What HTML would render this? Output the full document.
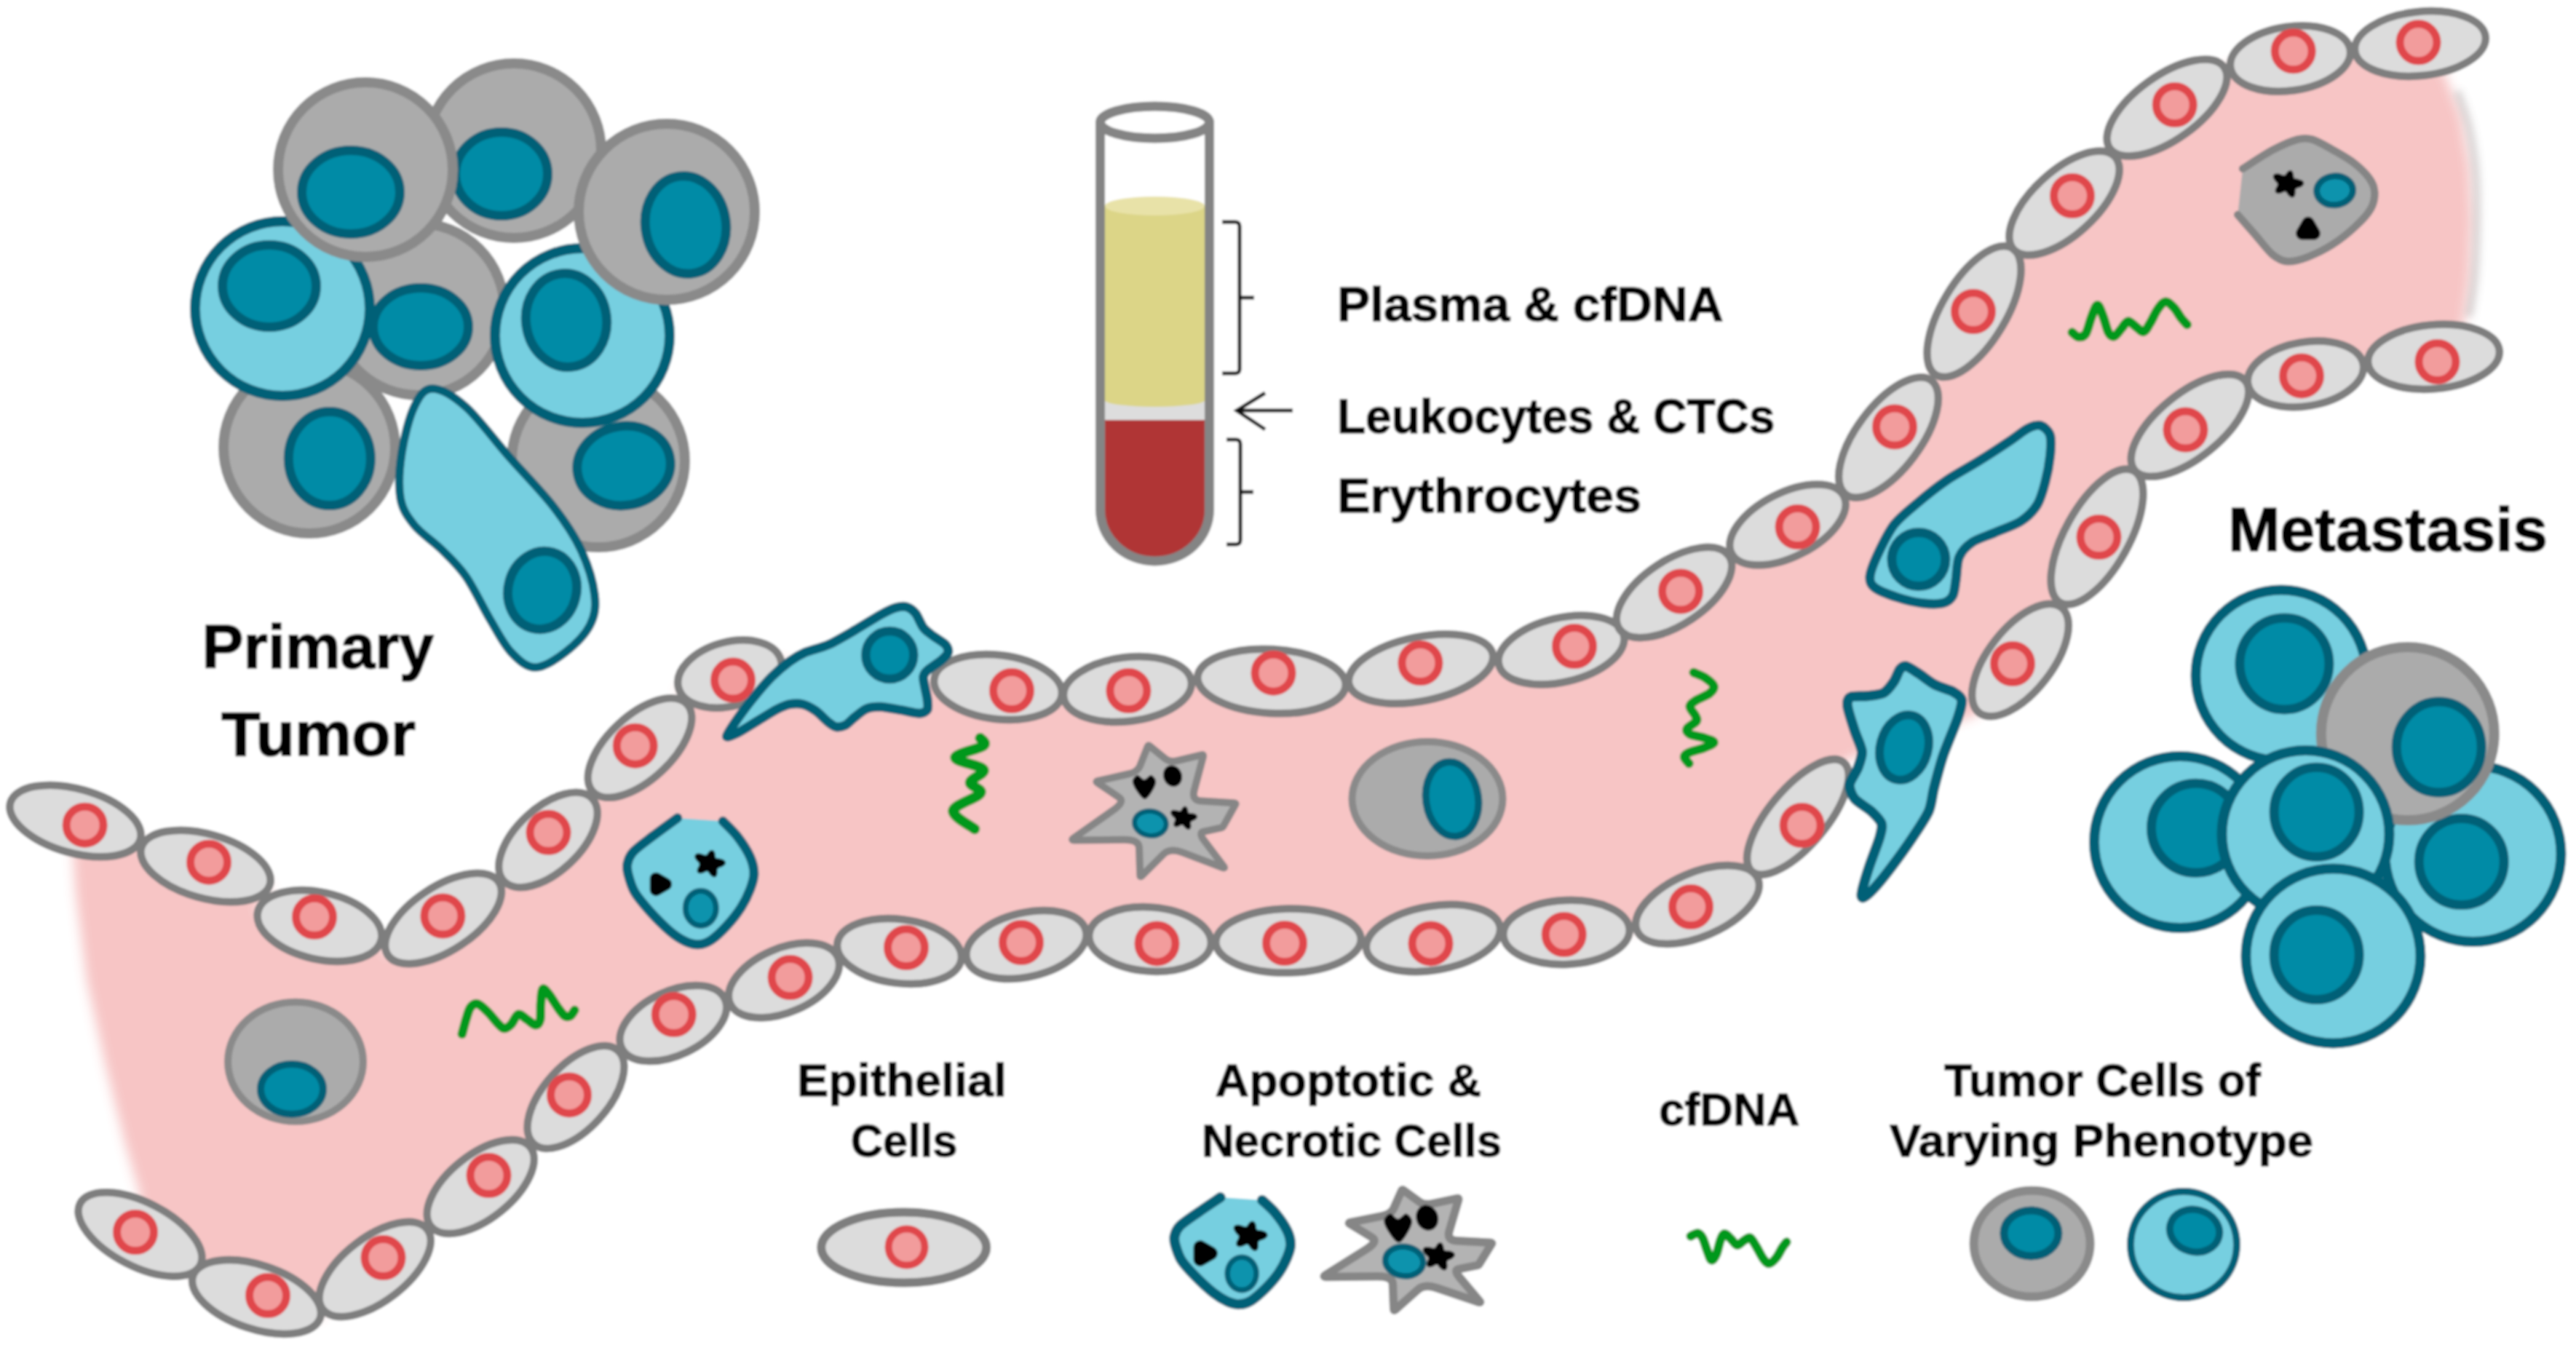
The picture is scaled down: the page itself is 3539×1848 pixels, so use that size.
<!DOCTYPE html><html><head><meta charset="utf-8"><title>Diagram</title><style>html,body{margin:0;padding:0;background:#fff}svg{display:block}text{font-family:"Liberation Sans",sans-serif;font-weight:bold;fill:#000;stroke:#000;stroke-linejoin:round}</style></head><body>
<svg width="3539" height="1848" viewBox="0 0 3539 1848">
<defs><filter id="bl" x="-5%" y="-5%" width="110%" height="110%"><feGaussianBlur stdDeviation="8"/></filter><filter id="bl2" filterUnits="userSpaceOnUse" x="3300" y="50" width="200" height="460"><feGaussianBlur stdDeviation="5"/></filter><filter id="soft" filterUnits="userSpaceOnUse" x="0" y="0" width="3539" height="1848"><feGaussianBlur stdDeviation="1.5"/></filter></defs>
<g filter="url(#soft)">
<rect width="3539" height="1848" fill="#fff"/>
<path d="M192.0,1640.0 L172.0,1572.0 L145.0,1465.0 L119.0,1347.0 L104.0,1228.0 L100.0,1170.0 L103.5,1128.0 L196.0,1154.0 L191.0,1164.0 L282.5,1190.0 L374.0,1216.0 L351.0,1252.0 L439.0,1272.0 L527.0,1292.0 L530.0,1314.0 L609.0,1262.0 L688.0,1210.0 L690.0,1213.0 L753.0,1154.0 L816.0,1095.0 L812.0,1090.0 L879.0,1027.5 L946.0,965.0 L929.0,946.0 L1002.5,926.0 L1076.0,906.0 L1090.0,915.0 L1280.0,936.0 L1280.0,933.0 L1371.0,944.0 L1462.0,955.0 L1458.0,958.0 L1549.0,947.0 L1640.0,936.0 L1642.0,930.0 L1747.0,936.0 L1852.0,942.0 L1850.0,940.0 L1952.0,919.0 L2054.0,898.0 L2056.0,914.0 L2145.0,893.0 L2234.0,872.0 L2222.0,866.0 L2300.0,814.0 L2378.0,762.0 L2376.0,762.0 L2456.0,721.0 L2536.0,680.0 L2534.0,682.0 L2594.5,601.0 L2655.0,520.0 L2658.0,518.0 L2712.0,428.0 L2766.0,338.0 L2764.0,345.0 L2836.0,279.0 L2908.0,213.0 L2896.0,206.0 L2977.0,148.0 L3058.0,90.0 L3061.0,93.0 L3146.5,80.5 L3232.0,68.0 L3232.0,70.0 L3325.0,60.0 L3356.0,95.0 L3381.0,160.0 L3393.0,230.0 L3396.0,300.0 L3393.0,380.0 L3384.0,450.0 L3343.5,490.2 L3250.0,499.0 L3250.0,500.0 L3167.5,514.0 L3085.0,528.0 L3087.0,521.0 L3008.5,584.5 L2930.0,648.0 L2933.0,644.0 L2881.0,737.5 L2829.0,831.0 L2834.0,832.0 L2775.5,907.0 L2717.0,982.0 L2535.0,1045.0 L2470.0,1122.5 L2405.0,1200.0 L2418.0,1206.0 L2332.0,1243.0 L2246.0,1280.0 L2242.0,1277.0 L2152.0,1281.0 L2062.0,1285.0 L2064.0,1273.0 L1969.0,1289.0 L1874.0,1305.0 L1873.0,1290.0 L1770.0,1292.5 L1667.0,1295.0 L1667.0,1297.0 L1580.0,1290.5 L1493.0,1284.0 L1495.0,1278.0 L1410.0,1298.0 L1325.0,1318.0 L1324.0,1318.0 L1235.5,1307.0 L1147.0,1296.0 L1154.0,1314.0 L1077.0,1347.0 L1000.0,1380.0 L998.6,1371.0 L924.8,1406.0 L851.0,1441.0 L851.0,1441.0 L791.0,1507.5 L731.0,1574.0 L731.0,1574.0 L660.2,1630.5 L589.5,1687.0 L589.5,1687.0 L515.2,1744.0 L441.0,1801.0 L443.0,1812.0 L352.5,1782.0 L262.0,1752.0 L278.0,1740.0 L192.5,1696.0Z" fill="#f7c5c5" filter="url(#bl)"/>
<path d="M3376.0,125.0 C3378.5,132.5 3386.8,152.5 3391.0,170.0 C3395.2,187.5 3399.0,208.3 3401.0,230.0 C3403.0,251.7 3403.2,275.0 3403.0,300.0 C3402.8,325.0 3401.8,357.5 3400.0,380.0 C3398.2,402.5 3393.3,425.8 3392.0,435.0" fill="none" stroke="#666" stroke-opacity="0.22" stroke-width="12" filter="url(#bl2)"/>
<ellipse cx="425.0" cy="615.0" rx="118.0" ry="118.0" fill="#ababab" stroke="#8a8a8a" stroke-width="14.0"/>
<ellipse cx="452.8" cy="630.0" rx="56.5" ry="64.5" fill="#008ba6" stroke="#006177" stroke-width="13.0"/>
<ellipse cx="822.0" cy="633.0" rx="119.0" ry="119.0" fill="#ababab" stroke="#8a8a8a" stroke-width="14.0"/>
<ellipse cx="857.0" cy="640.0" rx="64.5" ry="54.5" fill="#008ba6" stroke="#006177" stroke-width="13.0" transform="rotate(-10.0 857.0 640.0)"/>
<ellipse cx="575.0" cy="425.0" rx="118.0" ry="118.0" fill="#ababab" stroke="#8a8a8a" stroke-width="14.0"/>
<ellipse cx="578.0" cy="449.0" rx="65.5" ry="53.5" fill="#008ba6" stroke="#006177" stroke-width="13.0"/>
<ellipse cx="706.0" cy="207.0" rx="120.0" ry="120.0" fill="#ababab" stroke="#8a8a8a" stroke-width="14.0"/>
<ellipse cx="689.0" cy="239.0" rx="63.5" ry="57.5" fill="#008ba6" stroke="#006177" stroke-width="13.0"/>
<ellipse cx="388.0" cy="424.0" rx="120.0" ry="120.0" fill="#76cfe0" stroke="#006177" stroke-width="14.0"/>
<ellipse cx="370.0" cy="393.0" rx="64.5" ry="56.5" fill="#008ba6" stroke="#006177" stroke-width="13.0"/>
<ellipse cx="502.0" cy="233.0" rx="120.0" ry="120.0" fill="#ababab" stroke="#8a8a8a" stroke-width="14.0"/>
<ellipse cx="482.0" cy="264.0" rx="67.5" ry="57.5" fill="#008ba6" stroke="#006177" stroke-width="13.0"/>
<ellipse cx="800.0" cy="461.0" rx="120.0" ry="120.0" fill="#76cfe0" stroke="#006177" stroke-width="14.0"/>
<ellipse cx="778.0" cy="440.0" rx="55.5" ry="64.5" fill="#008ba6" stroke="#006177" stroke-width="13.0" transform="rotate(-8.0 778.0 440.0)"/>
<ellipse cx="916.0" cy="291.0" rx="121.0" ry="121.0" fill="#ababab" stroke="#8a8a8a" stroke-width="14.0"/>
<ellipse cx="942.0" cy="309.0" rx="55.5" ry="67.5" fill="#008ba6" stroke="#006177" stroke-width="13.0" transform="rotate(-8.0 942.0 309.0)"/>
<path d="M594.0,534.0 C605.8,534.0 622.7,543.7 640.0,559.0 C657.3,574.3 677.9,603.1 698.0,626.0 C718.1,648.9 743.9,675.0 760.6,696.5 C777.3,718.0 788.6,734.9 798.0,755.0 C807.4,775.1 814.9,799.7 817.0,817.0 C819.1,834.3 817.3,845.8 810.6,859.0 C803.9,872.2 789.5,886.3 777.0,896.0 C764.5,905.7 748.1,917.0 735.6,917.0 C723.1,917.0 712.4,907.1 702.0,896.0 C691.6,884.9 683.3,867.9 673.0,850.6 C662.7,833.3 651.1,807.9 640.0,792.0 C628.9,776.1 618.3,766.8 606.5,755.0 C594.7,743.2 578.4,733.3 569.0,721.5 C559.6,709.7 552.8,700.6 550.0,684.0 C547.2,667.4 548.8,642.4 552.0,621.6 C555.2,600.8 562.0,573.6 569.0,559.0 C576.0,544.4 582.2,534.0 594.0,534.0Z" fill="#76cfe0" stroke="#006177" stroke-width="11.5" stroke-linejoin="round" stroke-linecap="round" />
<ellipse cx="745.0" cy="811.0" rx="47.0" ry="54.0" fill="#008ba6" stroke="#006177" stroke-width="13.0" transform="rotate(15.0 745.0 811.0)"/>
<ellipse cx="103.5" cy="1128.0" rx="92.8" ry="44.0" fill="#dcdcdc" stroke="#7e7e7e" stroke-width="10.5" transform="rotate(15.7 103.5 1128.0)"/>
<ellipse cx="116.6" cy="1133.7" rx="25.5" ry="25.5" fill="#f29c9c" stroke="#e0474c" stroke-width="11.0"/>
<ellipse cx="282.5" cy="1190.0" rx="91.9" ry="44.0" fill="#dcdcdc" stroke="#7e7e7e" stroke-width="10.5" transform="rotate(15.9 282.5 1190.0)"/>
<ellipse cx="287.0" cy="1184.7" rx="25.5" ry="25.5" fill="#f29c9c" stroke="#e0474c" stroke-width="11.0"/>
<ellipse cx="439.0" cy="1272.0" rx="87.0" ry="46.0" fill="#dcdcdc" stroke="#7e7e7e" stroke-width="10.5" transform="rotate(12.8 439.0 1272.0)"/>
<ellipse cx="432.0" cy="1259.8" rx="25.5" ry="25.5" fill="#f29c9c" stroke="#e0474c" stroke-width="11.0"/>
<ellipse cx="609.0" cy="1262.0" rx="91.3" ry="44.0" fill="#dcdcdc" stroke="#7e7e7e" stroke-width="10.5" transform="rotate(-33.4 609.0 1262.0)"/>
<ellipse cx="608.4" cy="1258.5" rx="25.5" ry="25.5" fill="#f29c9c" stroke="#e0474c" stroke-width="11.0"/>
<ellipse cx="753.0" cy="1154.0" rx="83.1" ry="44.0" fill="#dcdcdc" stroke="#7e7e7e" stroke-width="10.5" transform="rotate(-43.1 753.0 1154.0)"/>
<ellipse cx="753.5" cy="1143.8" rx="25.5" ry="25.5" fill="#f29c9c" stroke="#e0474c" stroke-width="11.0"/>
<ellipse cx="879.0" cy="1027.5" rx="88.4" ry="44.0" fill="#dcdcdc" stroke="#7e7e7e" stroke-width="10.5" transform="rotate(-43.0 879.0 1027.5)"/>
<ellipse cx="872.7" cy="1024.7" rx="25.5" ry="25.5" fill="#f29c9c" stroke="#e0474c" stroke-width="11.0"/>
<ellipse cx="1002.5" cy="926.0" rx="72.9" ry="44.0" fill="#dcdcdc" stroke="#7e7e7e" stroke-width="10.5" transform="rotate(-15.2 1002.5 926.0)"/>
<ellipse cx="1007.0" cy="934.6" rx="25.5" ry="25.5" fill="#f29c9c" stroke="#e0474c" stroke-width="11.0"/>
<ellipse cx="1371.0" cy="944.0" rx="88.4" ry="44.0" fill="#dcdcdc" stroke="#7e7e7e" stroke-width="10.5" transform="rotate(6.9 1371.0 944.0)"/>
<ellipse cx="1390.0" cy="949.0" rx="25.5" ry="25.5" fill="#f29c9c" stroke="#e0474c" stroke-width="11.0"/>
<ellipse cx="1549.0" cy="947.0" rx="88.4" ry="44.0" fill="#dcdcdc" stroke="#7e7e7e" stroke-width="10.5" transform="rotate(-6.9 1549.0 947.0)"/>
<ellipse cx="1550.4" cy="949.0" rx="25.5" ry="25.5" fill="#f29c9c" stroke="#e0474c" stroke-width="11.0"/>
<ellipse cx="1747.0" cy="936.0" rx="101.9" ry="44.0" fill="#dcdcdc" stroke="#7e7e7e" stroke-width="10.5" transform="rotate(3.3 1747.0 936.0)"/>
<ellipse cx="1749.5" cy="924.7" rx="25.5" ry="25.5" fill="#f29c9c" stroke="#e0474c" stroke-width="11.0"/>
<ellipse cx="1952.0" cy="919.0" rx="100.9" ry="44.0" fill="#dcdcdc" stroke="#7e7e7e" stroke-width="10.5" transform="rotate(-11.6 1952.0 919.0)"/>
<ellipse cx="1951.4" cy="911.0" rx="25.5" ry="25.5" fill="#f29c9c" stroke="#e0474c" stroke-width="11.0"/>
<ellipse cx="2145.0" cy="893.0" rx="88.2" ry="44.0" fill="#dcdcdc" stroke="#7e7e7e" stroke-width="10.5" transform="rotate(-13.3 2145.0 893.0)"/>
<ellipse cx="2163.0" cy="888.0" rx="25.5" ry="25.5" fill="#f29c9c" stroke="#e0474c" stroke-width="11.0"/>
<ellipse cx="2300.0" cy="814.0" rx="90.5" ry="44.0" fill="#dcdcdc" stroke="#7e7e7e" stroke-width="10.5" transform="rotate(-33.7 2300.0 814.0)"/>
<ellipse cx="2309.0" cy="812.5" rx="25.5" ry="25.5" fill="#f29c9c" stroke="#e0474c" stroke-width="11.0"/>
<ellipse cx="2456.0" cy="721.0" rx="86.6" ry="44.0" fill="#dcdcdc" stroke="#7e7e7e" stroke-width="10.5" transform="rotate(-27.1 2456.0 721.0)"/>
<ellipse cx="2469.6" cy="724.0" rx="25.5" ry="25.5" fill="#f29c9c" stroke="#e0474c" stroke-width="11.0"/>
<ellipse cx="2594.5" cy="601.0" rx="97.9" ry="44.0" fill="#dcdcdc" stroke="#7e7e7e" stroke-width="10.5" transform="rotate(-53.2 2594.5 601.0)"/>
<ellipse cx="2603.0" cy="586.5" rx="25.5" ry="25.5" fill="#f29c9c" stroke="#e0474c" stroke-width="11.0"/>
<ellipse cx="2712.0" cy="428.0" rx="101.7" ry="44.0" fill="#dcdcdc" stroke="#7e7e7e" stroke-width="10.5" transform="rotate(-59.0 2712.0 428.0)"/>
<ellipse cx="2711.0" cy="428.0" rx="25.5" ry="25.5" fill="#f29c9c" stroke="#e0474c" stroke-width="11.0"/>
<ellipse cx="2836.0" cy="279.0" rx="94.4" ry="44.0" fill="#dcdcdc" stroke="#7e7e7e" stroke-width="10.5" transform="rotate(-42.5 2836.0 279.0)"/>
<ellipse cx="2847.0" cy="269.0" rx="25.5" ry="25.5" fill="#f29c9c" stroke="#e0474c" stroke-width="11.0"/>
<ellipse cx="2977.0" cy="148.0" rx="96.4" ry="44.0" fill="#dcdcdc" stroke="#7e7e7e" stroke-width="10.5" transform="rotate(-35.6 2977.0 148.0)"/>
<ellipse cx="2987.7" cy="144.0" rx="25.5" ry="25.5" fill="#f29c9c" stroke="#e0474c" stroke-width="11.0"/>
<ellipse cx="3146.5" cy="80.5" rx="83.2" ry="44.0" fill="#dcdcdc" stroke="#7e7e7e" stroke-width="10.5" transform="rotate(-8.3 3146.5 80.5)"/>
<ellipse cx="3150.7" cy="70.3" rx="25.5" ry="25.5" fill="#f29c9c" stroke="#e0474c" stroke-width="11.0"/>
<ellipse cx="3325.0" cy="60.0" rx="90.3" ry="44.0" fill="#dcdcdc" stroke="#7e7e7e" stroke-width="10.5" transform="rotate(-6.1 3325.0 60.0)"/>
<ellipse cx="3322.5" cy="58.3" rx="25.5" ry="25.5" fill="#f29c9c" stroke="#e0474c" stroke-width="11.0"/>
<ellipse cx="2775.5" cy="907.0" rx="91.9" ry="44.0" fill="#dcdcdc" stroke="#7e7e7e" stroke-width="10.5" transform="rotate(-52.0 2775.5 907.0)"/>
<ellipse cx="2765.0" cy="912.0" rx="25.5" ry="25.5" fill="#f29c9c" stroke="#e0474c" stroke-width="11.0"/>
<ellipse cx="2881.0" cy="737.5" rx="103.7" ry="44.0" fill="#dcdcdc" stroke="#7e7e7e" stroke-width="10.5" transform="rotate(-60.9 2881.0 737.5)"/>
<ellipse cx="2883.5" cy="738.0" rx="25.5" ry="25.5" fill="#f29c9c" stroke="#e0474c" stroke-width="11.0"/>
<ellipse cx="3008.5" cy="584.5" rx="97.7" ry="44.0" fill="#dcdcdc" stroke="#7e7e7e" stroke-width="10.5" transform="rotate(-39.0 3008.5 584.5)"/>
<ellipse cx="3002.5" cy="590.5" rx="25.5" ry="25.5" fill="#f29c9c" stroke="#e0474c" stroke-width="11.0"/>
<ellipse cx="3167.5" cy="514.0" rx="80.4" ry="44.0" fill="#dcdcdc" stroke="#7e7e7e" stroke-width="10.5" transform="rotate(-9.6 3167.5 514.0)"/>
<ellipse cx="3162.0" cy="516.4" rx="25.5" ry="25.5" fill="#f29c9c" stroke="#e0474c" stroke-width="11.0"/>
<ellipse cx="3343.5" cy="490.2" rx="90.7" ry="44.0" fill="#dcdcdc" stroke="#7e7e7e" stroke-width="10.5" transform="rotate(-5.3 3343.5 490.2)"/>
<ellipse cx="3348.5" cy="497.0" rx="25.5" ry="25.5" fill="#f29c9c" stroke="#e0474c" stroke-width="11.0"/>
<ellipse cx="192.5" cy="1696.0" rx="92.9" ry="44.0" fill="#dcdcdc" stroke="#7e7e7e" stroke-width="10.5" transform="rotate(27.2 192.5 1696.0)"/>
<ellipse cx="186.0" cy="1693.0" rx="25.5" ry="25.5" fill="#f29c9c" stroke="#e0474c" stroke-width="11.0"/>
<ellipse cx="352.5" cy="1782.0" rx="92.1" ry="44.0" fill="#dcdcdc" stroke="#7e7e7e" stroke-width="10.5" transform="rotate(18.3 352.5 1782.0)"/>
<ellipse cx="368.0" cy="1780.0" rx="25.5" ry="25.5" fill="#f29c9c" stroke="#e0474c" stroke-width="11.0"/>
<ellipse cx="515.2" cy="1744.0" rx="90.4" ry="44.0" fill="#dcdcdc" stroke="#7e7e7e" stroke-width="10.5" transform="rotate(-37.5 515.2 1744.0)"/>
<ellipse cx="526.5" cy="1728.0" rx="25.5" ry="25.5" fill="#f29c9c" stroke="#e0474c" stroke-width="11.0"/>
<ellipse cx="660.2" cy="1630.5" rx="87.3" ry="44.0" fill="#dcdcdc" stroke="#7e7e7e" stroke-width="10.5" transform="rotate(-38.6 660.2 1630.5)"/>
<ellipse cx="671.5" cy="1615.0" rx="25.5" ry="25.5" fill="#f29c9c" stroke="#e0474c" stroke-width="11.0"/>
<ellipse cx="791.0" cy="1507.5" rx="86.3" ry="44.0" fill="#dcdcdc" stroke="#7e7e7e" stroke-width="10.5" transform="rotate(-47.9 791.0 1507.5)"/>
<ellipse cx="782.0" cy="1504.4" rx="25.5" ry="25.5" fill="#f29c9c" stroke="#e0474c" stroke-width="11.0"/>
<ellipse cx="924.8" cy="1406.0" rx="78.4" ry="44.0" fill="#dcdcdc" stroke="#7e7e7e" stroke-width="10.5" transform="rotate(-25.4 924.8 1406.0)"/>
<ellipse cx="925.7" cy="1394.0" rx="25.5" ry="25.5" fill="#f29c9c" stroke="#e0474c" stroke-width="11.0"/>
<ellipse cx="1077.0" cy="1347.0" rx="80.5" ry="44.0" fill="#dcdcdc" stroke="#7e7e7e" stroke-width="10.5" transform="rotate(-23.2 1077.0 1347.0)"/>
<ellipse cx="1085.6" cy="1343.0" rx="25.5" ry="25.5" fill="#f29c9c" stroke="#e0474c" stroke-width="11.0"/>
<ellipse cx="1235.5" cy="1307.0" rx="85.9" ry="44.0" fill="#dcdcdc" stroke="#7e7e7e" stroke-width="10.5" transform="rotate(7.1 1235.5 1307.0)"/>
<ellipse cx="1245.0" cy="1302.0" rx="25.5" ry="25.5" fill="#f29c9c" stroke="#e0474c" stroke-width="11.0"/>
<ellipse cx="1410.0" cy="1298.0" rx="84.1" ry="44.0" fill="#dcdcdc" stroke="#7e7e7e" stroke-width="10.5" transform="rotate(-13.2 1410.0 1298.0)"/>
<ellipse cx="1403.0" cy="1295.0" rx="25.5" ry="25.5" fill="#f29c9c" stroke="#e0474c" stroke-width="11.0"/>
<ellipse cx="1580.0" cy="1290.5" rx="84.0" ry="44.0" fill="#dcdcdc" stroke="#7e7e7e" stroke-width="10.5" transform="rotate(4.3 1580.0 1290.5)"/>
<ellipse cx="1589.5" cy="1296.4" rx="25.5" ry="25.5" fill="#f29c9c" stroke="#e0474c" stroke-width="11.0"/>
<ellipse cx="1770.0" cy="1292.5" rx="99.8" ry="44.0" fill="#dcdcdc" stroke="#7e7e7e" stroke-width="10.5" transform="rotate(-1.4 1770.0 1292.5)"/>
<ellipse cx="1765.0" cy="1296.0" rx="25.5" ry="25.5" fill="#f29c9c" stroke="#e0474c" stroke-width="11.0"/>
<ellipse cx="1969.0" cy="1289.0" rx="93.1" ry="44.0" fill="#dcdcdc" stroke="#7e7e7e" stroke-width="10.5" transform="rotate(-9.6 1969.0 1289.0)"/>
<ellipse cx="1965.5" cy="1296.4" rx="25.5" ry="25.5" fill="#f29c9c" stroke="#e0474c" stroke-width="11.0"/>
<ellipse cx="2152.0" cy="1281.0" rx="86.8" ry="44.0" fill="#dcdcdc" stroke="#7e7e7e" stroke-width="10.5" transform="rotate(-2.5 2152.0 1281.0)"/>
<ellipse cx="2148.7" cy="1284.0" rx="25.5" ry="25.5" fill="#f29c9c" stroke="#e0474c" stroke-width="11.0"/>
<ellipse cx="2332.0" cy="1243.0" rx="90.4" ry="44.0" fill="#dcdcdc" stroke="#7e7e7e" stroke-width="10.5" transform="rotate(-23.3 2332.0 1243.0)"/>
<ellipse cx="2323.0" cy="1246.0" rx="25.5" ry="25.5" fill="#f29c9c" stroke="#e0474c" stroke-width="11.0"/>
<ellipse cx="2470.0" cy="1122.5" rx="97.9" ry="39.5" fill="#dcdcdc" stroke="#7e7e7e" stroke-width="10.5" transform="rotate(-50.0 2470.0 1122.5)"/>
<ellipse cx="2475.6" cy="1134.0" rx="25.5" ry="25.5" fill="#f29c9c" stroke="#e0474c" stroke-width="11.0"/>
<ellipse cx="406.0" cy="1458.7" rx="93.0" ry="82.0" fill="#ababab" stroke="#8a8a8a" stroke-width="10.0"/>
<ellipse cx="401.0" cy="1496.5" rx="43.0" ry="34.5" fill="#008ba6" stroke="#006177" stroke-width="10.0"/>
<ellipse cx="1961.0" cy="1097.5" rx="103.5" ry="78.5" fill="#ababab" stroke="#8a8a8a" stroke-width="10.0"/>
<ellipse cx="1995.0" cy="1098.0" rx="36.0" ry="51.5" fill="#008ba6" stroke="#006177" stroke-width="10.0" transform="rotate(-8.0 1995.0 1098.0)"/>
<path d="M634.8,1420.8 C635.8,1417.3 638.7,1405.7 640.6,1399.6 C642.5,1393.5 643.8,1387.5 646.4,1384.1 C649.0,1380.7 652.1,1378.3 656.0,1379.3 C659.9,1380.3 664.8,1385.2 669.6,1389.9 C674.4,1394.6 681.1,1403.4 685.0,1407.3 C688.9,1411.2 689.9,1413.1 692.8,1413.1 C695.7,1413.1 699.2,1410.5 702.4,1407.3 C705.6,1404.1 708.5,1394.9 712.1,1393.8 C715.7,1392.7 719.8,1398.1 723.7,1400.5 C727.6,1402.9 732.2,1408.1 735.3,1408.3 C738.3,1408.5 740.7,1406.5 742.0,1401.5 C743.3,1396.5 742.4,1385.4 743.0,1378.3 C743.6,1371.2 744.0,1360.9 745.9,1359.0 C747.8,1357.1 751.2,1362.5 754.6,1366.7 C758.0,1370.9 762.7,1379.3 766.2,1384.1 C769.7,1388.9 772.9,1393.8 775.8,1395.7 C778.7,1397.6 781.3,1397.0 783.6,1395.7 C785.9,1394.4 788.4,1389.3 789.4,1388.0" fill="none" stroke="#00981f" stroke-width="12.5" stroke-linejoin="round" stroke-linecap="round" />
<path d="M1346.7,1014.2 C1347.4,1015.9 1356.7,1020.1 1351.0,1024.6 C1345.3,1029.1 1312.5,1035.5 1312.5,1041.0 C1312.5,1046.5 1347.6,1051.6 1351.0,1057.3 C1354.4,1063.0 1333.7,1069.5 1333.0,1075.0 C1332.3,1080.5 1350.6,1083.5 1346.7,1090.0 C1342.8,1096.5 1310.8,1105.6 1309.5,1113.8 C1308.2,1122.0 1334.1,1134.8 1339.0,1139.0" fill="none" stroke="#00981f" stroke-width="14.5" stroke-linejoin="round" stroke-linecap="round" />
<path d="M2326.8,924.0 C2329.5,925.3 2338.6,928.4 2343.2,931.6 C2347.8,934.8 2353.8,939.4 2354.6,943.0 C2355.4,946.6 2352.2,949.8 2348.2,953.0 C2344.2,956.2 2334.9,959.0 2330.5,962.0 C2326.1,965.0 2321.9,967.2 2321.7,970.8 C2321.5,974.4 2327.8,980.0 2329.3,983.4 C2330.8,986.8 2332.4,988.1 2330.5,991.0 C2328.6,993.9 2319.4,998.0 2317.9,1001.0 C2316.4,1004.0 2317.9,1006.6 2321.7,1008.7 C2325.5,1010.8 2335.2,1011.8 2340.7,1013.7 C2346.2,1015.6 2354.6,1017.7 2354.6,1020.0 C2354.6,1022.3 2346.4,1025.3 2340.7,1027.6 C2335.0,1029.9 2324.8,1031.9 2320.4,1034.0 C2316.0,1036.1 2314.0,1037.8 2314.0,1040.3 C2314.0,1042.8 2319.3,1047.5 2320.4,1049.0" fill="none" stroke="#00981f" stroke-width="12.5" stroke-linejoin="round" stroke-linecap="round" />
<path d="M2846.8,456.7 C2848.3,457.8 2852.6,462.7 2855.7,463.0 C2858.8,463.3 2862.5,463.1 2865.5,458.5 C2868.5,453.9 2870.8,441.8 2873.5,435.3 C2876.2,428.8 2878.9,419.3 2881.6,419.3 C2884.3,419.3 2887.1,429.1 2889.6,435.3 C2892.1,441.5 2894.2,452.2 2896.7,456.7 C2899.2,461.1 2901.7,462.9 2904.7,462.0 C2907.7,461.1 2911.5,454.8 2914.6,451.4 C2917.7,448.0 2920.2,442.1 2923.5,441.6 C2926.8,441.2 2930.6,446.3 2934.2,448.7 C2937.8,451.1 2941.6,456.6 2944.9,455.8 C2948.2,455.1 2950.5,449.4 2953.8,444.2 C2957.1,439.0 2960.9,429.5 2964.5,424.6 C2968.1,419.7 2971.5,415.1 2975.2,414.8 C2978.9,414.5 2983.2,419.1 2986.8,422.8 C2990.4,426.5 2993.6,433.1 2996.6,437.0 C2999.6,440.9 3003.3,444.5 3004.7,446.0" fill="none" stroke="#00981f" stroke-width="12.5" stroke-linejoin="round" stroke-linecap="round" />
<path d="M2322.7,1698.4 C2324.3,1697.7 2329.8,1694.0 2332.5,1694.4 C2335.2,1694.8 2336.9,1696.8 2339.1,1700.9 C2341.3,1705.0 2343.6,1713.9 2345.6,1718.9 C2347.6,1724.0 2349.2,1730.4 2351.3,1731.2 C2353.4,1732.0 2355.9,1728.3 2357.9,1723.8 C2359.9,1719.3 2361.7,1709.0 2363.6,1704.2 C2365.5,1699.4 2366.9,1695.5 2369.3,1695.2 C2371.8,1694.9 2375.4,1699.9 2378.3,1702.5 C2381.2,1705.1 2383.5,1710.4 2386.5,1710.7 C2389.5,1711.0 2393.3,1705.8 2396.3,1704.2 C2399.3,1702.6 2401.8,1699.5 2404.5,1700.9 C2407.2,1702.3 2409.7,1707.6 2412.7,1712.4 C2415.7,1717.2 2419.5,1725.5 2422.5,1729.5 C2425.5,1733.5 2427.7,1736.4 2430.7,1736.1 C2433.7,1735.8 2437.5,1731.6 2440.5,1727.9 C2443.5,1724.2 2446.4,1717.5 2448.7,1714.0 C2451.0,1710.5 2453.4,1707.8 2454.4,1706.6" fill="none" stroke="#00981f" stroke-width="12.5" stroke-linejoin="round" stroke-linecap="round" />
<path d="M998.4,1011.4 C998.4,1008.8 1008.6,994.4 1013.5,987.3 C1018.4,980.3 1028.7,966.4 1034.9,958.8 C1041.1,951.2 1053.3,936.9 1059.9,930.2 C1066.6,923.6 1078.7,913.4 1084.9,908.8 C1091.1,904.3 1099.2,899.4 1106.3,896.3 C1113.4,893.3 1129.4,889.7 1138.4,885.6 C1147.5,881.6 1164.6,871.5 1174.1,866.0 C1183.6,860.5 1202.2,848.8 1209.8,844.6 C1217.4,840.4 1226.4,836.2 1231.2,834.8 C1235.9,833.4 1241.9,832.8 1245.5,833.9 C1249.0,835.0 1254.9,839.0 1257.9,842.8 C1261.0,846.6 1265.6,858.4 1268.7,862.4 C1271.7,866.5 1277.1,870.1 1281.1,873.1 C1285.2,876.2 1296.1,882.5 1299.0,885.6 C1301.8,888.7 1303.3,893.5 1302.6,896.3 C1301.8,899.2 1297.4,903.7 1293.6,907.0 C1289.8,910.4 1277.3,918.2 1274.0,921.3 C1270.7,924.4 1269.1,927.4 1268.7,930.2 C1268.2,933.1 1269.7,938.7 1270.4,942.7 C1271.2,946.8 1273.5,956.3 1274.0,960.6 C1274.5,964.9 1275.4,972.2 1274.0,974.8 C1272.6,977.5 1268.1,980.1 1263.3,980.2 C1258.5,980.3 1245.5,976.9 1238.3,975.7 C1231.2,974.5 1216.2,971.5 1209.8,971.3 C1203.4,971.0 1194.9,972.0 1190.2,974.0 C1185.4,975.9 1177.9,982.6 1174.1,985.5 C1170.3,988.5 1164.9,994.5 1161.6,996.3 C1158.3,998.0 1152.2,999.4 1149.1,998.9 C1146.0,998.5 1142.2,995.7 1138.4,992.7 C1134.6,989.7 1125.3,980.0 1120.6,976.6 C1115.8,973.3 1107.5,968.9 1102.7,967.7 C1098.0,966.5 1089.6,966.8 1084.9,967.7 C1080.1,968.7 1073.0,971.8 1067.0,974.8 C1061.1,977.9 1047.4,986.6 1040.3,990.9 C1033.1,995.2 1019.1,1004.2 1013.5,1007.0 C1007.9,1009.7 998.4,1014.0 998.4,1011.4Z" fill="#76cfe0" stroke="#006177" stroke-width="13.0" stroke-linejoin="round" stroke-linecap="round" />
<ellipse cx="1222.3" cy="900.0" rx="33.0" ry="33.0" fill="#008ba6" stroke="#006177" stroke-width="12.5"/>
<path d="M2803.2,584.5 C2807.8,585.9 2814.5,591.6 2816.5,597.9 C2818.5,604.3 2817.5,617.2 2816.5,626.9 C2815.5,636.6 2812.5,652.6 2809.8,662.6 C2807.2,672.6 2803.7,685.8 2798.7,693.8 C2793.7,701.8 2785.1,710.4 2776.4,716.1 C2767.7,721.8 2750.7,727.4 2740.7,731.7 C2730.7,736.1 2716.9,740.1 2709.5,745.1 C2702.1,750.1 2695.0,757.5 2691.7,765.2 C2688.3,772.9 2688.5,788.4 2687.2,796.4 C2685.9,804.4 2685.4,813.8 2682.7,818.7 C2680.1,823.5 2675.7,827.2 2669.3,828.7 C2663.0,830.2 2649.7,829.9 2640.4,828.7 C2631.0,827.6 2616.6,824.1 2606.9,820.9 C2597.2,817.7 2581.4,811.9 2575.7,807.5 C2570.0,803.2 2568.3,799.0 2569.0,791.9 C2569.7,784.9 2575.1,771.4 2580.1,760.7 C2585.2,750.0 2594.4,730.9 2602.4,720.6 C2610.5,710.2 2623.0,700.6 2633.7,691.6 C2644.4,682.5 2661.1,669.1 2673.8,660.4 C2686.5,651.7 2705.0,642.0 2718.4,633.6 C2731.8,625.2 2753.0,611.3 2763.0,604.6 C2773.1,597.9 2779.3,592.0 2785.3,589.0 C2791.3,586.0 2798.5,583.2 2803.2,584.5Z" fill="#76cfe0" stroke="#006177" stroke-width="13.0" stroke-linejoin="round" stroke-linecap="round" />
<ellipse cx="2635.9" cy="768.5" rx="37.0" ry="37.0" fill="#008ba6" stroke="#006177" stroke-width="13.0"/>
<path d="M2618.7,915.3 C2622.1,916.1 2630.4,921.8 2635.7,925.2 C2641.0,928.6 2651.9,937.4 2658.3,940.8 C2664.7,944.2 2678.8,947.8 2683.7,950.7 C2688.6,953.5 2694.3,957.1 2695.1,962.0 C2695.8,966.9 2692.8,977.2 2689.4,987.4 C2686.0,997.6 2673.9,1025.5 2669.6,1038.3 C2665.3,1051.1 2659.5,1073.4 2656.9,1083.5 C2654.3,1093.7 2653.8,1105.6 2649.8,1114.6 C2645.9,1123.7 2634.0,1141.2 2627.2,1151.4 C2620.4,1161.6 2606.1,1181.5 2598.9,1191.0 C2591.8,1200.4 2578.8,1216.4 2573.5,1222.0 C2568.2,1227.7 2561.4,1233.0 2559.4,1233.4 C2557.3,1233.7 2556.8,1230.5 2558.0,1224.9 C2559.1,1219.2 2564.6,1200.8 2567.8,1191.0 C2571.0,1181.2 2579.7,1159.3 2582.0,1151.4 C2584.2,1143.5 2586.3,1136.5 2584.8,1131.6 C2583.3,1126.7 2575.6,1119.2 2570.7,1114.6 C2565.8,1110.1 2552.0,1102.6 2548.1,1097.7 C2544.1,1092.8 2540.4,1083.5 2541.0,1077.9 C2541.6,1072.2 2550.0,1061.3 2552.3,1055.3 C2554.6,1049.2 2558.5,1039.4 2558.0,1032.7 C2557.4,1025.9 2550.7,1012.7 2548.1,1004.4 C2545.4,996.1 2538.9,976.7 2538.2,970.5 C2537.4,964.2 2538.8,959.6 2542.4,957.7 C2546.0,955.9 2559.0,957.1 2565.0,956.3 C2571.0,955.6 2582.7,954.7 2587.6,952.1 C2592.5,949.4 2598.8,940.9 2601.8,936.5 C2604.8,932.2 2608.0,922.4 2610.2,919.6 C2612.5,916.7 2615.3,914.6 2618.7,915.3Z" fill="#76cfe0" stroke="#006177" stroke-width="14.0" stroke-linejoin="round" stroke-linecap="round" />
<ellipse cx="2616.0" cy="1027.0" rx="33.0" ry="45.5" fill="#008ba6" stroke="#006177" stroke-width="12.0" transform="rotate(15.0 2616.0 1027.0)"/>
<path d="M930.7,1123.9 C925.6,1127.6 905.9,1141.9 896.8,1148.8 C887.7,1155.8 875.2,1164.6 870.0,1170.3 C864.8,1175.9 863.0,1181.8 862.0,1186.3 C860.9,1190.9 861.4,1194.7 862.8,1200.6 C864.3,1206.5 867.5,1218.1 871.8,1225.6 C876.1,1233.1 884.2,1242.5 891.4,1250.6 C898.6,1258.6 912.5,1272.7 919.9,1279.1 C927.4,1285.5 935.5,1290.6 941.4,1293.4 C947.3,1296.2 953.9,1298.1 959.2,1297.8 C964.6,1297.6 971.2,1295.5 977.1,1291.6 C982.9,1287.7 992.3,1278.7 998.5,1272.0 C1004.6,1265.3 1013.3,1254.5 1018.1,1247.0 C1022.9,1239.5 1027.9,1229.0 1030.6,1222.0 C1033.3,1215.0 1035.9,1207.3 1035.9,1200.6 C1035.9,1193.9 1034.1,1185.2 1030.6,1177.4 C1027.1,1169.6 1018.4,1156.2 1012.7,1148.8 C1007.1,1141.5 996.1,1131.4 993.1,1128.3 Z" fill="#76cfe0" stroke="none"/>
<path d="M930.7,1123.9 C925.6,1127.6 905.9,1141.9 896.8,1148.8 C887.7,1155.8 875.2,1164.6 870.0,1170.3 C864.8,1175.9 863.0,1181.8 862.0,1186.3 C860.9,1190.9 861.4,1194.7 862.8,1200.6 C864.3,1206.5 867.5,1218.1 871.8,1225.6 C876.1,1233.1 884.2,1242.5 891.4,1250.6 C898.6,1258.6 912.5,1272.7 919.9,1279.1 C927.4,1285.5 935.5,1290.6 941.4,1293.4 C947.3,1296.2 953.9,1298.1 959.2,1297.8 C964.6,1297.6 971.2,1295.5 977.1,1291.6 C982.9,1287.7 992.3,1278.7 998.5,1272.0 C1004.6,1265.3 1013.3,1254.5 1018.1,1247.0 C1022.9,1239.5 1027.9,1229.0 1030.6,1222.0 C1033.3,1215.0 1035.9,1207.3 1035.9,1200.6 C1035.9,1193.9 1034.1,1185.2 1030.6,1177.4 C1027.1,1169.6 1018.4,1156.2 1012.7,1148.8 C1007.1,1141.5 996.1,1131.4 993.1,1128.3" fill="none" stroke="#006177" stroke-width="13.0" stroke-linejoin="round" stroke-linecap="round" />
<path d="M914.7,1214.9 L901.2,1222.7 L901.2,1207.1Z" fill="#000" stroke="#000" stroke-width="16.9" stroke-linejoin="round" stroke-linecap="round" />
<path d="M996.9,1186.3 C996.6,1187.7 994.7,1189.3 993.2,1190.3 C991.7,1191.3 989.3,1191.7 988.0,1192.4 C986.7,1193.1 986.0,1193.4 985.6,1194.5 C985.2,1195.5 985.8,1197.3 985.6,1198.8 C985.4,1200.3 985.3,1202.6 984.4,1203.7 C983.6,1204.8 981.9,1205.5 980.6,1205.3 C979.2,1205.1 977.3,1203.6 976.1,1202.5 C974.8,1201.4 974.0,1199.4 973.1,1198.6 C972.2,1197.7 971.8,1197.2 970.8,1197.3 C969.8,1197.4 968.5,1198.5 967.1,1199.0 C965.6,1199.5 963.3,1200.4 961.8,1200.3 C960.3,1200.1 958.6,1199.3 958.0,1198.2 C957.4,1197.1 957.7,1195.0 958.1,1193.6 C958.5,1192.1 960.0,1190.5 960.4,1189.3 C960.7,1188.1 961.0,1187.4 960.4,1186.3 C959.9,1185.2 958.1,1184.1 957.1,1182.6 C956.1,1181.2 954.5,1179.0 954.3,1177.4 C954.2,1175.8 955.0,1174.0 956.3,1173.2 C957.6,1172.4 960.2,1172.5 962.1,1172.7 C964.0,1172.9 966.1,1174.2 967.6,1174.5 C969.0,1174.8 969.7,1175.0 970.5,1174.5 C971.4,1174.0 971.9,1172.5 972.8,1171.5 C973.8,1170.4 975.0,1168.8 976.3,1168.3 C977.5,1167.8 979.1,1167.9 980.1,1168.6 C981.2,1169.3 981.9,1171.1 982.4,1172.5 C982.8,1173.9 982.5,1175.8 982.9,1176.9 C983.3,1177.9 983.4,1178.5 984.5,1179.0 C985.6,1179.4 987.5,1179.2 989.3,1179.7 C991.0,1180.2 993.8,1180.8 995.0,1181.9 C996.3,1183.0 997.2,1184.9 996.9,1186.3Z" fill="#000" stroke="none" stroke-width="0.0" stroke-linejoin="round" stroke-linecap="round" />
<ellipse cx="962.8" cy="1247.9" rx="21.0" ry="24.0" fill="#0a93ad" stroke="#006177" stroke-width="8.0"/>
<path d="M1576.7,1025.7 Q1577.6,1023.5 1579.3,1024.9 L1600.8,1042.3 Q1607.3,1047.6 1617.5,1045.2 L1651.0,1037.2 Q1653.8,1036.5 1652.8,1040.3 L1640.7,1085.8 Q1637.0,1099.7 1650.5,1100.5 L1694.7,1103.2 Q1698.4,1103.4 1697.3,1105.4 L1680.9,1134.9 Q1679.8,1136.9 1677.8,1137.3 L1653.7,1142.7 Q1646.3,1144.3 1654.5,1155.1 L1681.3,1190.6 Q1683.5,1193.6 1678.9,1191.8 L1624.1,1171.1 Q1607.3,1164.7 1598.3,1173.7 L1568.9,1203.2 Q1566.4,1205.6 1566.3,1202.5 L1565.0,1165.0 Q1564.6,1153.6 1543.9,1153.8 L1476.3,1154.5 Q1470.7,1154.5 1475.2,1151.3 L1529.4,1113.2 Q1546.0,1101.5 1537.0,1095.4 L1507.5,1075.3 Q1505.1,1073.7 1508.5,1072.9 L1550.0,1063.5 Q1562.7,1060.7 1566.0,1052.5 Z" fill="#b3b3b3" stroke="#868686" stroke-width="10.0" stroke-linejoin="round" stroke-linecap="round" />
<path d="M1555.8,1073.5 C1556.0,1069.8 1559.9,1065.4 1562.6,1065.0 C1565.3,1064.5 1568.9,1070.9 1572.0,1070.9 C1575.1,1070.9 1578.6,1064.5 1581.3,1065.0 C1584.0,1065.4 1587.9,1069.8 1588.1,1073.5 C1588.4,1077.1 1585.6,1082.9 1583.0,1087.1 C1580.5,1091.2 1576.4,1098.1 1572.8,1098.1 C1569.3,1098.1 1564.6,1091.2 1561.8,1087.1 C1559.0,1082.9 1555.7,1077.1 1555.8,1073.5Z" fill="#000" stroke="none" stroke-width="0.0" stroke-linejoin="round" stroke-linecap="round" />
<ellipse cx="1611.0" cy="1066.2" rx="12.8" ry="15.0" fill="#000" stroke="#000" stroke-width="0.0" transform="rotate(-20.0 1611.0 1066.2)"/>
<path d="M1644.5,1123.9 C1643.9,1125.0 1642.0,1126.2 1640.7,1127.0 C1639.4,1127.8 1637.7,1128.1 1636.9,1128.8 C1636.2,1129.5 1636.1,1130.1 1636.0,1131.2 C1636.0,1132.4 1636.6,1134.2 1636.4,1135.5 C1636.2,1136.9 1635.7,1138.6 1634.8,1139.3 C1633.9,1140.0 1632.3,1140.0 1631.0,1139.6 C1629.7,1139.1 1628.3,1137.5 1627.2,1136.6 C1626.2,1135.6 1625.6,1134.2 1624.8,1133.8 C1624.1,1133.3 1623.6,1133.5 1622.7,1133.8 C1621.7,1134.1 1620.4,1135.3 1619.0,1135.7 C1617.7,1136.1 1615.9,1136.6 1614.7,1136.2 C1613.6,1135.9 1612.6,1134.8 1612.4,1133.7 C1612.1,1132.6 1612.7,1130.8 1613.1,1129.5 C1613.5,1128.3 1614.5,1127.2 1614.5,1126.3 C1614.6,1125.3 1614.1,1124.8 1613.3,1123.9 C1612.5,1122.9 1610.6,1121.7 1609.7,1120.4 C1608.9,1119.1 1607.9,1117.2 1608.1,1115.9 C1608.3,1114.7 1609.6,1113.4 1610.9,1113.0 C1612.3,1112.5 1614.7,1112.9 1616.3,1113.2 C1617.8,1113.4 1619.3,1114.3 1620.4,1114.3 C1621.4,1114.3 1621.7,1113.9 1622.4,1113.2 C1623.1,1112.5 1623.6,1110.9 1624.4,1110.0 C1625.3,1109.1 1626.5,1108.0 1627.6,1107.8 C1628.6,1107.7 1629.9,1108.3 1630.7,1109.2 C1631.4,1110.0 1631.8,1111.8 1632.2,1113.0 C1632.5,1114.2 1632.3,1115.5 1632.8,1116.2 C1633.3,1116.9 1633.9,1116.9 1635.1,1117.2 C1636.2,1117.4 1638.3,1117.2 1639.8,1117.6 C1641.4,1118.1 1643.5,1118.9 1644.2,1120.0 C1645.0,1121.0 1645.1,1122.7 1644.5,1123.9Z" fill="#000" stroke="none" stroke-width="0.0" stroke-linejoin="round" stroke-linecap="round" />
<ellipse cx="1580.4" cy="1131.3" rx="22.0" ry="17.0" fill="#0a93ad" stroke="#006177" stroke-width="7.0" transform="rotate(8.0 1580.4 1131.3)"/>
<path d="M3081.1,231.8 C3087.2,228.0 3110.8,212.2 3122.1,206.2 C3133.4,200.2 3148.1,193.8 3156.3,191.6 C3164.5,189.5 3169.9,189.7 3176.8,191.6 C3183.8,193.6 3194.0,199.7 3202.5,204.5 C3211.0,209.2 3225.3,217.1 3233.3,223.3 C3241.2,229.4 3251.2,239.4 3255.5,245.5 C3259.9,251.7 3262.1,258.2 3262.4,264.3 C3262.6,270.5 3261.1,279.7 3257.2,286.6 C3253.4,293.5 3244.7,303.1 3236.7,310.5 C3228.8,318.0 3214.2,329.8 3204.2,336.2 C3194.2,342.6 3179.2,349.8 3170.0,353.3 C3160.8,356.8 3149.8,359.8 3142.6,359.3 C3135.4,358.8 3128.8,355.4 3122.1,349.9 C3115.4,344.4 3105.3,330.7 3098.2,322.5 C3091.0,314.3 3077.8,299.2 3074.2,295.1 Z" fill="#ababab"/>
<path d="M3081.1,231.8 C3087.2,228.0 3110.8,212.2 3122.1,206.2 C3133.4,200.2 3148.1,193.8 3156.3,191.6 C3164.5,189.5 3169.9,189.7 3176.8,191.6 C3183.8,193.6 3194.0,199.7 3202.5,204.5 C3211.0,209.2 3225.3,217.1 3233.3,223.3 C3241.2,229.4 3251.2,239.4 3255.5,245.5 C3259.9,251.7 3262.1,258.2 3262.4,264.3 C3262.6,270.5 3261.1,279.7 3257.2,286.6 C3253.4,293.5 3244.7,303.1 3236.7,310.5 C3228.8,318.0 3214.2,329.8 3204.2,336.2 C3194.2,342.6 3179.2,349.8 3170.0,353.3 C3160.8,356.8 3149.8,359.8 3142.6,359.3 C3135.4,358.8 3128.8,355.4 3122.1,349.9 C3115.4,344.4 3105.3,330.7 3098.2,322.5 C3091.0,314.3 3077.8,299.2 3074.2,295.1" fill="none" stroke="#858585" stroke-width="10.5" stroke-linejoin="round" stroke-linecap="round" />
<path d="M3165.2,252.4 C3165.0,253.8 3163.3,255.5 3161.8,256.5 C3160.4,257.5 3157.8,257.9 3156.5,258.6 C3155.1,259.2 3154.2,259.5 3153.7,260.5 C3153.2,261.5 3153.8,263.1 3153.6,264.6 C3153.4,266.1 3153.3,268.4 3152.5,269.6 C3151.7,270.8 3150.2,271.6 3148.8,271.5 C3147.4,271.4 3145.6,270.0 3144.3,268.9 C3143.1,267.8 3142.2,265.8 3141.3,264.9 C3140.4,263.9 3140.0,263.3 3139.1,263.3 C3138.1,263.3 3136.9,264.3 3135.4,264.8 C3134.0,265.3 3131.7,266.2 3130.2,266.2 C3128.7,266.1 3126.9,265.4 3126.2,264.3 C3125.5,263.3 3125.6,261.3 3126.0,259.8 C3126.4,258.3 3127.9,256.7 3128.3,255.4 C3128.8,254.2 3129.2,253.5 3128.8,252.4 C3128.3,251.3 3126.7,250.3 3125.7,248.8 C3124.7,247.3 3123.0,245.2 3122.8,243.6 C3122.6,242.0 3123.2,240.0 3124.4,239.2 C3125.6,238.3 3128.2,238.3 3130.1,238.5 C3132.0,238.7 3134.2,240.0 3135.7,240.4 C3137.1,240.7 3137.9,241.1 3138.8,240.7 C3139.7,240.3 3140.1,238.9 3141.1,237.9 C3142.0,236.9 3143.3,235.1 3144.5,234.6 C3145.7,234.0 3147.4,233.9 3148.4,234.5 C3149.4,235.2 3150.3,236.9 3150.7,238.3 C3151.2,239.7 3151.0,241.6 3151.3,242.8 C3151.6,243.9 3151.7,244.6 3152.6,245.1 C3153.6,245.6 3155.5,245.4 3157.2,245.9 C3158.9,246.4 3161.7,247.0 3163.0,248.1 C3164.3,249.1 3165.4,251.0 3165.2,252.4Z" fill="#000" stroke="none" stroke-width="0.0" stroke-linejoin="round" stroke-linecap="round" />
<ellipse cx="3207.6" cy="261.8" rx="25.0" ry="20.0" fill="#0a93ad" stroke="#006177" stroke-width="9.0" transform="rotate(-5.0 3207.6 261.8)"/>
<path d="M3171.0,306.6 L3179.1,320.7 L3162.9,320.7Z" fill="#000" stroke="#000" stroke-width="17.6" stroke-linejoin="round" stroke-linecap="round" />
<ellipse cx="3134.0" cy="928.0" rx="117.5" ry="117.5" fill="#76cfe0" stroke="#006177" stroke-width="14.0"/>
<ellipse cx="3138.4" cy="912.0" rx="61.5" ry="63.0" fill="#008ba6" stroke="#006177" stroke-width="13.0"/>
<ellipse cx="3397.5" cy="1173.0" rx="121.0" ry="121.0" fill="#76cfe0" stroke="#006177" stroke-width="14.0"/>
<ellipse cx="3381.7" cy="1184.0" rx="58.5" ry="59.5" fill="#008ba6" stroke="#006177" stroke-width="13.0"/>
<ellipse cx="3307.8" cy="1008.0" rx="119.0" ry="119.0" fill="#ababab" stroke="#8a8a8a" stroke-width="14.0"/>
<ellipse cx="3350.7" cy="1026.6" rx="58.5" ry="62.5" fill="#008ba6" stroke="#006177" stroke-width="13.0"/>
<ellipse cx="2995.0" cy="1157.0" rx="118.0" ry="118.0" fill="#76cfe0" stroke="#006177" stroke-width="14.0"/>
<ellipse cx="3017.0" cy="1137.8" rx="61.5" ry="61.5" fill="#008ba6" stroke="#006177" stroke-width="13.0"/>
<ellipse cx="3167.5" cy="1146.0" rx="115.0" ry="115.0" fill="#76cfe0" stroke="#006177" stroke-width="14.0"/>
<ellipse cx="3182.6" cy="1115.7" rx="58.5" ry="61.5" fill="#008ba6" stroke="#006177" stroke-width="13.0"/>
<ellipse cx="3205.4" cy="1313.5" rx="120.0" ry="120.0" fill="#76cfe0" stroke="#006177" stroke-width="14.0"/>
<ellipse cx="3182.6" cy="1312.0" rx="58.5" ry="61.5" fill="#008ba6" stroke="#006177" stroke-width="13.0"/>
<path d="M1518.0,283 L1518.0,560 L1655.0,560 L1655.0,283 Z" fill="#dcd587"/>
<ellipse cx="1586.5" cy="283" rx="68.5" ry="13" fill="#e8e2a8"/>
<path d="M1518.0,550 A68.5,9 0 0 0 1655.0,550 L1655.0,580 L1518.0,580 Z" fill="#dddddd"/>
<path d="M1518.0,577 L1655.0,577 L1661.5,700 A75,72 0 0 1 1511.5,700 Z" fill="#b03434"/>
<path d="M1511.5,168 L1511.5,700 A75,71 0 0 0 1661.5,700 L1661.5,168" fill="none" stroke="#848484" stroke-width="13"/>
<ellipse cx="1586.5" cy="168" rx="75" ry="22" fill="#fff" stroke="#848484" stroke-width="13"/>
<path d="M1679.0,305.0 L1697.0,305.0 Q1703.0,305.0 1703.0,311.0 L1703.0,507.0 Q1703.0,513.0 1697.0,513.0 L1679.0,513.0 M1703.0,409.0 L1723.0,409.0" fill="none" stroke="#111" stroke-width="5"/>
<path d="M1685.0,604.0 L1698.0,604.0 Q1704.0,604.0 1704.0,610.0 L1704.0,742.0 Q1704.0,748.0 1698.0,748.0 L1685.0,748.0 M1704.0,676.0 L1722.0,676.0" fill="none" stroke="#111" stroke-width="5"/>
<path d="M1776,564 L1699,564 M1738,540 L1699,564 L1738,590" fill="none" stroke="#111" stroke-width="5"/>
<ellipse cx="1241.7" cy="1714.0" rx="113.5" ry="48.5" fill="#dcdcdc" stroke="#7e7e7e" stroke-width="12.0"/>
<ellipse cx="1245.6" cy="1713.5" rx="25.0" ry="25.0" fill="#f29c9c" stroke="#e0474c" stroke-width="10.0"/>
<path d="M1676.7,1645.1 C1672.0,1648.3 1653.9,1660.3 1645.6,1666.2 C1637.3,1672.1 1625.9,1679.6 1621.1,1684.3 C1616.3,1689.1 1614.7,1694.0 1613.7,1697.9 C1612.7,1701.7 1613.2,1705.0 1614.5,1710.0 C1615.9,1714.9 1618.8,1724.7 1622.7,1731.1 C1626.6,1737.4 1634.1,1745.4 1640.7,1752.2 C1647.3,1759.0 1660.0,1770.9 1666.8,1776.3 C1673.7,1781.7 1681.1,1786.0 1686.5,1788.4 C1691.9,1790.7 1697.9,1792.4 1702.8,1792.1 C1707.7,1791.9 1713.8,1790.1 1719.2,1786.9 C1724.5,1783.6 1733.1,1775.9 1738.8,1770.3 C1744.4,1764.6 1752.3,1755.5 1756.7,1749.2 C1761.2,1742.8 1765.7,1733.9 1768.2,1728.0 C1770.6,1722.2 1773.1,1715.6 1773.1,1710.0 C1773.1,1704.3 1771.4,1696.9 1768.2,1690.4 C1765.0,1683.8 1757.0,1672.4 1751.8,1666.2 C1746.7,1660.0 1736.6,1651.5 1733.9,1648.9 Z" fill="#76cfe0" stroke="none"/>
<path d="M1676.7,1645.1 C1672.0,1648.3 1653.9,1660.3 1645.6,1666.2 C1637.3,1672.1 1625.9,1679.6 1621.1,1684.3 C1616.3,1689.1 1614.7,1694.0 1613.7,1697.9 C1612.7,1701.7 1613.2,1705.0 1614.5,1710.0 C1615.9,1714.9 1618.8,1724.7 1622.7,1731.1 C1626.6,1737.4 1634.1,1745.4 1640.7,1752.2 C1647.3,1759.0 1660.0,1770.9 1666.8,1776.3 C1673.7,1781.7 1681.1,1786.0 1686.5,1788.4 C1691.9,1790.7 1697.9,1792.4 1702.8,1792.1 C1707.7,1791.9 1713.8,1790.1 1719.2,1786.9 C1724.5,1783.6 1733.1,1775.9 1738.8,1770.3 C1744.4,1764.6 1752.3,1755.5 1756.7,1749.2 C1761.2,1742.8 1765.7,1733.9 1768.2,1728.0 C1770.6,1722.2 1773.1,1715.6 1773.1,1710.0 C1773.1,1704.3 1771.4,1696.9 1768.2,1690.4 C1765.0,1683.8 1757.0,1672.4 1751.8,1666.2 C1746.7,1660.0 1736.6,1651.5 1733.9,1648.9" fill="none" stroke="#006177" stroke-width="14.0" stroke-linejoin="round" stroke-linecap="round" />
<path d="M1663.7,1722.0 L1648.8,1730.6 L1648.8,1713.5Z" fill="#000" stroke="#000" stroke-width="18.5" stroke-linejoin="round" stroke-linecap="round" />
<path d="M1741.4,1697.9 C1741.1,1699.4 1739.0,1701.2 1737.4,1702.3 C1735.8,1703.4 1733.0,1703.8 1731.6,1704.5 C1730.2,1705.3 1729.4,1705.7 1729.0,1706.8 C1728.6,1708.0 1729.3,1709.9 1729.0,1711.6 C1728.8,1713.3 1728.7,1715.8 1727.7,1717.0 C1726.8,1718.2 1725.0,1719.0 1723.5,1718.8 C1722.0,1718.6 1719.9,1716.9 1718.6,1715.7 C1717.2,1714.4 1716.3,1712.3 1715.3,1711.3 C1714.3,1710.4 1713.9,1709.9 1712.8,1710.0 C1711.7,1710.1 1710.3,1711.3 1708.7,1711.8 C1707.0,1712.4 1704.6,1713.4 1702.9,1713.2 C1701.3,1713.1 1699.4,1712.2 1698.7,1710.9 C1698.1,1709.7 1698.4,1707.5 1698.8,1705.8 C1699.3,1704.2 1700.9,1702.5 1701.3,1701.2 C1701.7,1699.8 1702.0,1699.1 1701.4,1697.9 C1700.8,1696.7 1698.8,1695.5 1697.7,1693.9 C1696.6,1692.2 1694.8,1689.8 1694.7,1688.1 C1694.5,1686.4 1695.4,1684.3 1696.8,1683.5 C1698.3,1682.6 1701.2,1682.7 1703.2,1682.9 C1705.3,1683.2 1707.7,1684.6 1709.2,1684.9 C1710.7,1685.2 1711.5,1685.5 1712.5,1684.9 C1713.5,1684.4 1713.9,1682.7 1715.0,1681.6 C1716.0,1680.4 1717.4,1678.6 1718.8,1678.1 C1720.1,1677.5 1721.9,1677.6 1723.0,1678.4 C1724.2,1679.2 1725.0,1681.2 1725.5,1682.7 C1726.0,1684.2 1725.7,1686.3 1726.1,1687.5 C1726.5,1688.7 1726.7,1689.3 1727.8,1689.8 C1729.0,1690.3 1731.2,1690.0 1733.1,1690.6 C1735.0,1691.1 1738.0,1691.9 1739.4,1693.1 C1740.8,1694.3 1741.7,1696.4 1741.4,1697.9Z" fill="#000" stroke="none" stroke-width="0.0" stroke-linejoin="round" stroke-linecap="round" />
<ellipse cx="1706.1" cy="1749.9" rx="19.9" ry="22.7" fill="#0a93ad" stroke="#006177" stroke-width="7.6"/>
<path d="M1925.5,1636.0 Q1926.4,1633.9 1928.2,1635.3 L1950.2,1651.3 Q1956.9,1656.1 1967.4,1653.9 L2001.7,1646.5 Q2004.6,1645.9 2003.5,1649.4 L1991.2,1691.2 Q1987.4,1704.0 2001.2,1704.8 L2046.6,1707.2 Q2050.3,1707.4 2049.2,1709.3 L2032.4,1736.4 Q2031.3,1738.2 2029.2,1738.6 L2004.5,1743.6 Q1996.9,1745.1 2005.3,1755.0 L2032.8,1787.7 Q2035.1,1790.4 2030.4,1788.8 L1974.1,1769.7 Q1956.9,1763.9 1947.7,1772.2 L1917.4,1799.2 Q1914.9,1801.5 1914.8,1798.6 L1913.4,1764.2 Q1913.0,1753.6 1891.8,1753.8 L1822.5,1754.4 Q1816.7,1754.5 1821.3,1751.6 L1877.0,1716.5 Q1894.0,1705.7 1884.7,1700.1 L1854.5,1681.6 Q1852.0,1680.1 1855.5,1679.4 L1898.1,1670.8 Q1911.1,1668.1 1914.5,1660.6 Z" fill="#b3b3b3" stroke="#868686" stroke-width="11.5" stroke-linejoin="round" stroke-linecap="round" />
<path d="M1901.3,1677.8 C1901.5,1673.4 1906.2,1668.1 1909.5,1667.6 C1912.7,1667.1 1916.9,1674.7 1920.7,1674.7 C1924.4,1674.7 1928.6,1667.1 1931.8,1667.6 C1935.1,1668.1 1939.6,1673.4 1940.0,1677.8 C1940.3,1682.2 1936.9,1689.1 1933.9,1694.0 C1930.8,1699.0 1925.9,1707.3 1921.7,1707.3 C1917.4,1707.3 1911.8,1699.0 1908.5,1694.0 C1905.1,1689.1 1901.2,1682.2 1901.3,1677.8Z" fill="#000" stroke="none" stroke-width="0.0" stroke-linejoin="round" stroke-linecap="round" />
<ellipse cx="1960.7" cy="1673.2" rx="15.2" ry="17.9" fill="#000" stroke="#000" stroke-width="0.0" transform="rotate(-20.0 1960.7 1673.2)"/>
<path d="M1998.2,1726.3 C1997.5,1727.7 1995.2,1729.0 1993.7,1730.0 C1992.2,1731.0 1990.1,1731.3 1989.2,1732.1 C1988.2,1733.0 1988.2,1733.7 1988.1,1735.1 C1988.0,1736.4 1988.8,1738.6 1988.5,1740.2 C1988.3,1741.8 1987.7,1744.0 1986.6,1744.8 C1985.6,1745.6 1983.6,1745.6 1982.1,1745.1 C1980.6,1744.5 1978.8,1742.6 1977.6,1741.5 C1976.3,1740.3 1975.6,1738.7 1974.7,1738.1 C1973.8,1737.6 1973.2,1737.8 1972.1,1738.2 C1970.9,1738.6 1969.3,1740.0 1967.8,1740.4 C1966.2,1740.9 1963.9,1741.5 1962.6,1741.1 C1961.3,1740.7 1960.1,1739.4 1959.8,1738.0 C1959.4,1736.7 1960.2,1734.5 1960.7,1733.1 C1961.1,1731.6 1962.3,1730.3 1962.4,1729.2 C1962.4,1728.0 1961.8,1727.4 1960.9,1726.3 C1959.9,1725.1 1957.7,1723.7 1956.6,1722.2 C1955.6,1720.6 1954.4,1718.3 1954.7,1716.8 C1954.9,1715.3 1956.4,1713.8 1958.1,1713.3 C1959.7,1712.7 1962.6,1713.2 1964.4,1713.5 C1966.3,1713.7 1968.1,1714.8 1969.3,1714.8 C1970.6,1714.8 1971.0,1714.4 1971.8,1713.5 C1972.6,1712.6 1973.2,1710.7 1974.2,1709.7 C1975.2,1708.6 1976.7,1707.2 1978.0,1707.1 C1979.2,1706.9 1980.7,1707.7 1981.7,1708.7 C1982.6,1709.7 1983.0,1711.9 1983.5,1713.3 C1983.9,1714.7 1983.6,1716.2 1984.2,1717.1 C1984.8,1717.9 1985.5,1718.0 1986.9,1718.3 C1988.3,1718.6 1990.8,1718.3 1992.6,1718.8 C1994.5,1719.4 1997.0,1720.4 1997.9,1721.6 C1998.8,1722.8 1998.9,1724.9 1998.2,1726.3Z" fill="#000" stroke="none" stroke-width="0.0" stroke-linejoin="round" stroke-linecap="round" />
<ellipse cx="1929.2" cy="1733.1" rx="26.3" ry="20.3" fill="#0a93ad" stroke="#006177" stroke-width="8.4" transform="rotate(8.0 1929.2 1733.1)"/>
<ellipse cx="2791.6" cy="1708.8" rx="80.0" ry="73.0" fill="#ababab" stroke="#8a8a8a" stroke-width="12.0"/>
<ellipse cx="2790.4" cy="1694.4" rx="37.5" ry="31.5" fill="#008ba6" stroke="#006177" stroke-width="11.0"/>
<ellipse cx="3000.0" cy="1710.0" rx="73.0" ry="73.0" fill="#76cfe0" stroke="#006177" stroke-width="10.0"/>
<ellipse cx="3015.0" cy="1691.0" rx="34.5" ry="29.0" fill="#008ba6" stroke="#006177" stroke-width="10.0" transform="rotate(15.0 3015.0 1691.0)"/>
<text x="277.6" y="918.0" font-size="85.0" stroke-width="1.70" textLength="318.4" lengthAdjust="spacingAndGlyphs" xml:space="preserve">Primary</text>
<text x="304.0" y="1037.6" font-size="85.0" stroke-width="1.70" textLength="267.0" lengthAdjust="spacingAndGlyphs" xml:space="preserve">Tumor</text>
<text x="3061.0" y="757.4" font-size="85.0" stroke-width="1.70" textLength="439.0" lengthAdjust="spacingAndGlyphs" xml:space="preserve">Metastasis</text>
<text x="1837.0" y="441.0" font-size="67.0" stroke-width="1.34" textLength="530.7" lengthAdjust="spacingAndGlyphs" xml:space="preserve">Plasma &amp; cfDNA</text>
<text x="1837.0" y="595.0" font-size="67.0" stroke-width="1.34" textLength="601.5" lengthAdjust="spacingAndGlyphs" xml:space="preserve">Leukocytes &amp; CTCs</text>
<text x="1837.0" y="704.0" font-size="67.0" stroke-width="1.34" textLength="418.0" lengthAdjust="spacingAndGlyphs" xml:space="preserve">Erythrocytes</text>
<text x="1095.0" y="1506.0" font-size="63.0" stroke-width="1.26" textLength="288.0" lengthAdjust="spacingAndGlyphs" xml:space="preserve">Epithelial</text>
<text x="1168.8" y="1588.6" font-size="63.0" stroke-width="1.26" textLength="146.7" lengthAdjust="spacingAndGlyphs" xml:space="preserve">Cells</text>
<text x="1669.6" y="1506.0" font-size="63.0" stroke-width="1.26" textLength="365.4" lengthAdjust="spacingAndGlyphs" xml:space="preserve">Apoptotic &amp;</text>
<text x="1651.0" y="1588.6" font-size="63.0" stroke-width="1.26" textLength="412.0" lengthAdjust="spacingAndGlyphs" xml:space="preserve">Necrotic Cells</text>
<text x="2279.0" y="1545.8" font-size="63.0" stroke-width="1.26" textLength="193.5" lengthAdjust="spacingAndGlyphs" xml:space="preserve">cfDNA</text>
<text x="2671.0" y="1506.0" font-size="63.0" stroke-width="1.26" textLength="435.0" lengthAdjust="spacingAndGlyphs" xml:space="preserve">Tumor Cells of</text>
<text x="2596.0" y="1588.6" font-size="63.0" stroke-width="1.26" textLength="582.0" lengthAdjust="spacingAndGlyphs" xml:space="preserve">Varying Phenotype</text>
</g></svg></body></html>
